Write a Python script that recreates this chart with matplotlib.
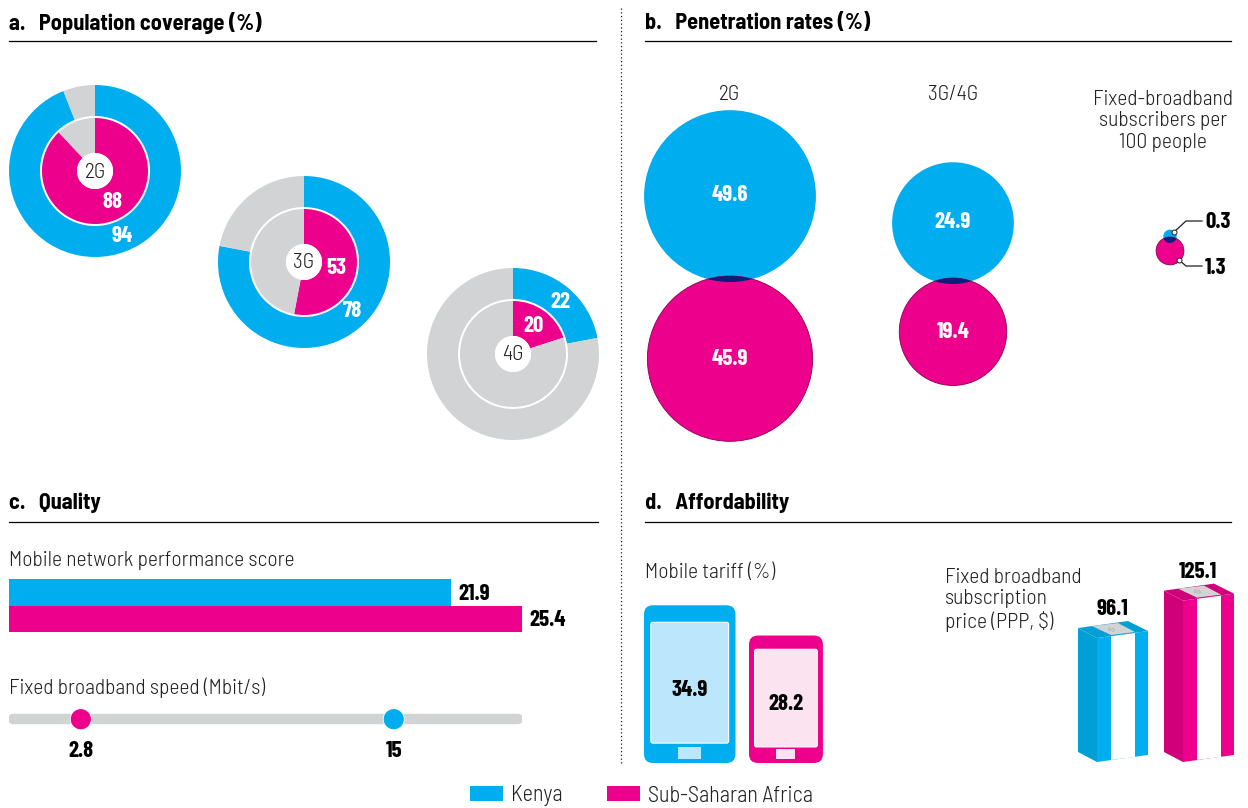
import numpy as np
import matplotlib
matplotlib.use('Agg')
import matplotlib.pyplot as plt
from matplotlib.patches import Circle, FancyBboxPatch, Polygon, Patch, Rectangle

# data
techs = ['2G', '3G', '4G']
coverage_kenya = [94, 78, 22]
coverage_ssa = [88, 53, 20]

pen_labels = ['2G', '3G/4G', 'Fixed-broadband\nsubscribers per\n100 people']
pen_kenya = [49.6, 24.9, 0.3]
pen_ssa = [45.9, 19.4, 1.3]

quality_labels = ['Kenya', 'Sub-Saharan Africa']
network_score = [21.9, 25.4]
broadband_speed = [15, 2.8]
mobile_tariff = [34.9, 28.2]
broadband_price = [96.1, 125.1]

BLUE = '#00AEEF'
PINK = '#EC008C'
GREY = '#D1D3D4'
NAVY = '#0A1F78'
TXT = '#231F20'
BODY = ['Barlow Semi Condensed', 'Roboto Condensed', 'DejaVu Sans']
NUM = ['Barlow Condensed', 'Roboto Condensed', 'DejaVu Sans']
BODY_SIZE = 15.5
NUM_SIZE = 16.5

plt.rcParams['font.family'] = BODY
W, H = 1248, 808
fig = plt.figure(figsize=(W / 100, H / 100), dpi=100)
ax = fig.add_axes([0, 0, 1, 1])


def Y(y):
    return H - y


def sub_axes(x0, x1, y0, y1):
    a = fig.add_axes([x0 / W, 1 - y1 / H, (x1 - x0) / W, (y1 - y0) / H])
    a.axis('off')
    return a


def label(x, y, s, size=BODY_SIZE, color=TXT, ha='left', **kw):
    ax.text(x, Y(y), s, fontsize=size, fontweight=300, color=color, ha=ha, va='center', **kw)


def value(x, y, s, color='black', ha='center', **kw):
    ax.text(x, Y(y), s, fontsize=NUM_SIZE, fontweight='bold', family=NUM, color=color, ha=ha, va='center', **kw)


def header(x0, x1, y_text, y_rule, s):
    ax.text(x0, Y(y_text), s, fontsize=16.1, fontweight='bold', color='black', va='center')
    ax.plot([x0, x1], [Y(y_rule), Y(y_rule)], color='black', lw=0.9)


# a. coverage donuts
donut_centres = [(95, 171), (304, 262), (513, 354)]
ring_labels = [((122, 236), (112, 202)), ((352, 311), (336, 268)), ((560, 302), (534, 326))]
for tech, k, s, c, pos in zip(techs, coverage_kenya, coverage_ssa, donut_centres, ring_labels):
    cy = (c[0], Y(c[1]))
    ax.pie([k, 100 - k], colors=[BLUE, GREY], radius=86, center=cy, startangle=90, counterclock=False,
           wedgeprops={'width': 31, 'linewidth': 0})
    ax.pie([s, 100 - s], colors=[PINK, GREY], radius=53, center=cy, startangle=90, counterclock=False,
           wedgeprops={'width': 35, 'linewidth': 0})
    ax.add_patch(Circle(cy, 18, fc='white', ec='none', zorder=3))
    label(c[0], c[1] + 1, tech, ha='center', zorder=4)
    value(pos[0][0], pos[0][1], str(k), color='white', zorder=4)
    value(pos[1][0], pos[1][1], str(s), color='white', zorder=4)

# b. penetration circles, area is proportional to the value
r_scale = 12.2
pen_x = [730, 953, 1170]
touch_y = [279, 281, 240]
pen_lab_y = [94, 94, 120]
pen_lab_x = [730, 953, 1163]
for i in range(3):
    rk = r_scale * np.sqrt(pen_kenya[i])
    rs = r_scale * np.sqrt(pen_ssa[i])
    yk = touch_y[i] - rk + 3
    ys = touch_y[i] + rs - 3
    ck = Circle((pen_x[i], Y(yk)), rk, fc=BLUE, ec='none', zorder=2)
    cs = Circle((pen_x[i], Y(ys)), rs, fc=PINK, ec='#8A0052', lw=0.6, zorder=2)
    ax.add_patch(ck)
    ax.add_patch(cs)
    lens = Circle((pen_x[i], Y(yk)), rk, fc=NAVY, ec='none', zorder=3)
    ax.add_patch(lens)
    lens.set_clip_path(cs)
    label(pen_lab_x[i], pen_lab_y[i] + 1, pen_labels[i], ha='center', linespacing=1.15)
    if i < 2:
        value(pen_x[i], yk - 1, f'{pen_kenya[i]}', color='white', zorder=4)
        value(pen_x[i], ys, f'{pen_ssa[i]}', color='white', zorder=4)

for pts, val, ty in [([(1174, 232), (1186, 221), (1202, 221)], pen_kenya[2], 222),
                     ([(1179, 260), (1186, 266), (1202, 266)], pen_ssa[2], 268)]:
    xs, ys = zip(*pts)
    ax.plot(xs, [Y(v) for v in ys], color=TXT, lw=0.9, zorder=5)
    ax.plot(xs[0], Y(ys[0]), 'o', ms=3.6, mfc='white', mec=TXT, mew=0.7, zorder=6)
    value(1205, ty, str(val), ha='left')

# c. quality
label(9, 560, 'Mobile network performance score')
bar_ax = sub_axes(9, 598, 579, 632)
bar_ax.barh([0, 1], network_score, height=1, color=[BLUE, PINK])
bar_ax.set_xlim(0, 589 / 20.2)
bar_ax.set_ylim(1.5, -0.5)
for i, v in enumerate(network_score):
    bar_ax.annotate(f'{v}', (v, i), xytext=(5, -1), textcoords='offset points', va='center',
                    fontsize=NUM_SIZE, fontweight='bold', family=NUM, color='black')

label(9, 688, 'Fixed broadband speed (Mbit/s)')
speed_ax = sub_axes(9, 522, 700, 764)
speed_ax.set_xlim(0, 20)
speed_ax.set_ylim(0, 1)
speed_ax.plot([0.15, 19.85], [0.7, 0.7], color=GREY, lw=7.5, solid_capstyle='round')
speed_ax.scatter(broadband_speed, [0.7, 0.7], s=230, c=[BLUE, PINK], linewidths=0.6, edgecolors='white', zorder=3)
for v in broadband_speed:
    speed_ax.text(v, 0.2, f'{v}', ha='center', va='center', fontsize=NUM_SIZE, fontweight='bold',
                  family=NUM, color='black')

# d. affordability
label(645, 572, 'Mobile tariff (%)')
phone_x = [644, 749]
phone_base = 763
for x0, v, col, pale in zip(phone_x, mobile_tariff, [BLUE, PINK], ['#BBE6FB', '#FBE3F0']):
    h = 4.52 * v
    w = 0.58 * h
    top = phone_base - h
    ax.add_patch(FancyBboxPatch((x0 + 7, Y(phone_base) + 7), w - 14, h - 14,
                                boxstyle='round,pad=7,rounding_size=9', fc=col, ec='none'))
    side = 0.075 * w
    ax.add_patch(FancyBboxPatch((x0 + side, Y(top + 0.874 * h)), w - 2 * side, 0.766 * h,
                                boxstyle='round,pad=0,rounding_size=2', fc=pale, ec='white', lw=0.8))
    ax.add_patch(Rectangle((x0 + 0.37 * w, Y(phone_base - 4)), 0.25 * w, 0.075 * h, fc=pale, ec='none'))
    value(x0 + w / 2, top + 0.54 * h, f'{v}')

label(945, 600, 'Fixed broadband\nsubscription\nprice (PPP, $)', linespacing=1.15)

box_x = [1078, 1164]
for x0, v, col, dark in zip(box_x, broadband_price, [BLUE, PINK], ['#00A0D6', '#D0007B']):
    h = 1.29 * v
    p = lambda dx, dy, up=0: (x0 + dx, Y(752 + dy - up))
    # left side, front, paper band, top with a grey strip
    ax.add_patch(Polygon([p(0, 0), p(19, 10), p(19, 10, h), p(0, 0, h)], fc=dark, ec='none'))
    ax.add_patch(Polygon([p(19, 10), p(70, 3), p(70, 3, h), p(19, 10, h)], fc=col, ec='none'))
    ax.add_patch(Polygon([p(33, 8), p(57, 5), p(57, 5, h), p(33, 8, h)], fc='white', ec='none'))
    ax.add_patch(Polygon([p(0, 0, h), p(19, 10, h), p(70, 3, h), p(50, -7, h)], fc=dark, ec='none'))
    ax.add_patch(Polygon([p(14, -2, h), p(33, 7, h), p(57, 4, h), p(40, -5, h)], fc=GREY, ec='none'))
    ax.text(x0 + 35, Y(752 - h + 1), '$', fontsize=6, color='#9A9C9E', ha='center', va='center', rotation=75)
    value(x0 + 34, 752 - h - 19, f'{v}')

# headers, divider and legend
header(9, 596, 23, 41, 'a.   Population coverage (%)')
header(645, 1231, 23, 41, 'b.   Penetration rates (%)')
header(9, 598, 503, 522, 'c.   Quality')
header(645, 1231, 503, 522, 'd.   Affordability')
ax.plot([621, 621], [Y(8), Y(765)], color=TXT, lw=0.9, ls=(0, (1, 2)))

leg = ax.legend(handles=[Patch(fc=BLUE, label=quality_labels[0]), Patch(fc=PINK, label=quality_labels[1])],
                loc='center', bbox_to_anchor=(641.5 / W, 1 - 796 / H), bbox_transform=fig.transFigure, ncol=2,
                frameon=False, fontsize=16, handlelength=1.49, handleheight=0.68, handletextpad=0.36,
                columnspacing=2.0, labelcolor=TXT, borderpad=0, borderaxespad=0)
for t in leg.get_texts():
    t.set_fontweight(300)

ax.set_xlim(0, W)
ax.set_ylim(0, H)
ax.set_aspect('auto')
ax.axis('off')
fig.savefig('out.png', dpi=100)
